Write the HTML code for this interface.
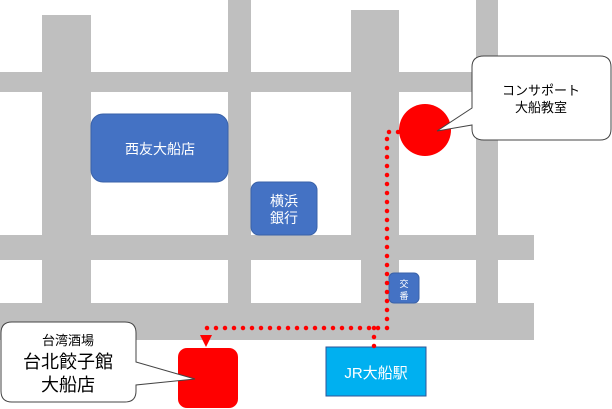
<!DOCTYPE html>
<html><head><meta charset="utf-8"><style>
html,body{margin:0;padding:0;background:#fff;}
svg{display:block;font-family:"Liberation Sans","Noto Sans CJK JP",sans-serif;}
</style></head><body>
<svg width="612" height="409" viewBox="0 0 612 409" xmlns="http://www.w3.org/2000/svg">
<g fill="#bfbfbf">
<rect x="42" y="15" width="49" height="325"/>
<rect x="228" y="0" width="23" height="340"/>
<rect x="351" y="10" width="48" height="250"/>
<rect x="361" y="250" width="38" height="90"/>
<rect x="476" y="0" width="22" height="340"/>
<rect x="0" y="72" width="498" height="20"/>
<rect x="0" y="235" width="534" height="25"/>
<rect x="0" y="303" width="534" height="37"/>
</g>
<g fill="#4472c4" stroke="#3a62a8" stroke-width="1">
<rect x="91" y="114" width="137" height="68" rx="12"/>
<rect x="251" y="182" width="66" height="53" rx="8"/>
<rect x="389" y="273" width="30" height="30" rx="5"/>
</g>
<g fill="#fff" text-anchor="middle">
<text x="160" y="154" font-size="14">西友大船店</text>
<text x="284" y="206" font-size="14">横浜</text>
<text x="284" y="223" font-size="14">銀行</text>
<text x="404" y="287" font-size="9">交</text>
<text x="404" y="299" font-size="9">番</text>
</g>
<ellipse cx="425" cy="130" rx="26" ry="26" fill="#ff0000"/>
<rect x="178" y="348" width="60" height="60" rx="9" fill="#ff0000"/>
<rect x="326" y="347" width="100" height="49" fill="#00b0f0" stroke="#2f5597" stroke-width="1"/>
<text x="376" y="378" font-size="15" fill="#fff" text-anchor="middle">JR大船駅</text>
<path d="M484,56 H600 Q611,56 611,67 V129 Q611,140 600,140 H484 Q472,140 472,129 V125 L437,131 L472,108 V67 Q472,56 484,56 Z" fill="#fff" stroke="#444" stroke-width="1"/>
<text x="541" y="95" font-size="13" text-anchor="middle">コンサポート</text>
<text x="541" y="112" font-size="13" text-anchor="middle">大船教室</text>
<path d="M12,322 H125 Q136,322 136,333 V362 L195,379 L136,385 V391 Q136,402 125,402 H12 Q1,402 1,391 V333 Q1,322 12,322 Z" fill="#fff" stroke="#444" stroke-width="1"/>
<text x="68" y="345" font-size="13" text-anchor="middle">台湾酒場</text>
<text x="68" y="368" font-size="18" text-anchor="middle">台北餃子館</text>
<text x="68" y="391" font-size="18" text-anchor="middle">大船店</text>
<g fill="none" stroke="#ff0000" stroke-width="4.5" stroke-linecap="round" stroke-dasharray="0 9">
<path d="M398,132 H387 V328 H206 V332"/>
<path d="M374,328 V347"/>
</g>
<polygon points="200,335 212,335 206,347" fill="#ff0000"/>
</svg>
</body></html>
